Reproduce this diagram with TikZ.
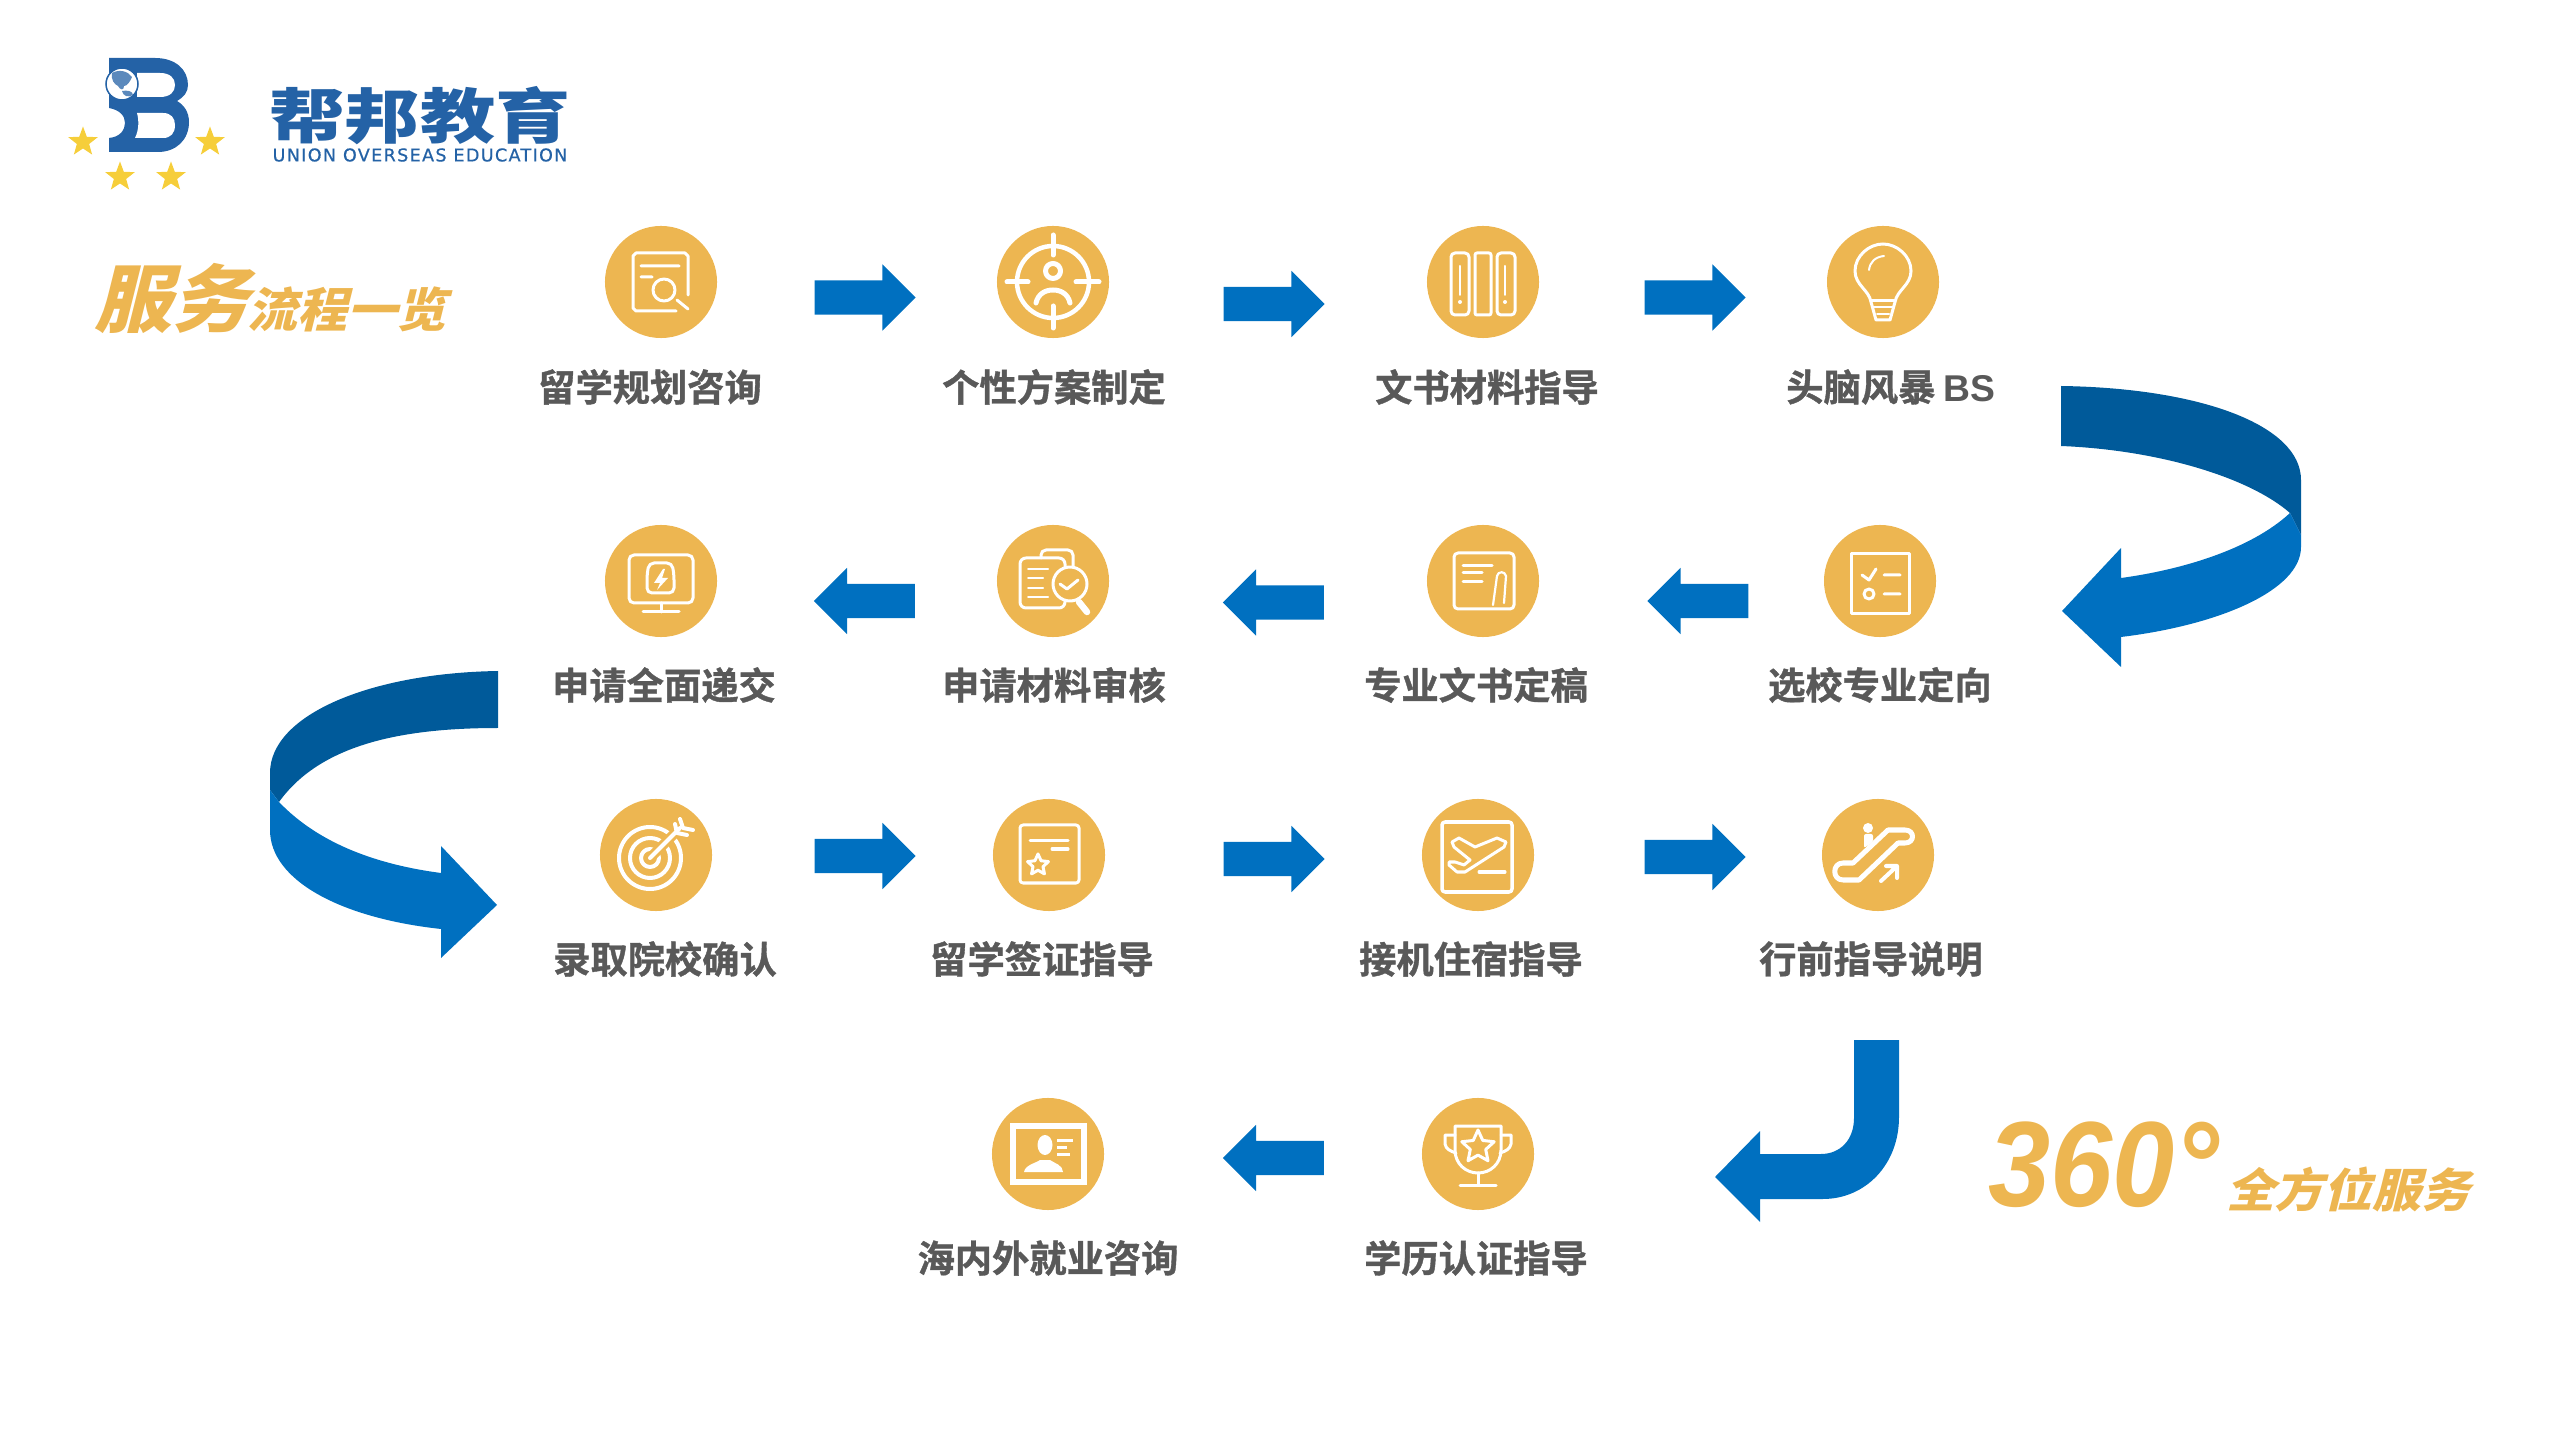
\documentclass[tikz,border=0pt]{standalone}
\usepackage{fontspec}
\setmainfont{Liberation Sans}
\newfontfamily\cjkbold[FakeBold=1]{Noto Sans CJK SC Bold}
\newfontfamily\cjkblack[FakeStretch=1.26]{Noto Sans CJK SC Black}
\newfontfamily\cjkslant[FakeSlant=0.25,FakeStretch=1.05]{Noto Sans CJK SC Black}
\newfontfamily\latinbold{Liberation Sans Bold}
\newfontfamily\latinslant[FakeStretch=0.92]{Liberation Sans Bold Italic}
\newfontfamily\logolatin[FakeBold=0.6,LetterSpace=7.5]{DejaVu Sans}
\usetikzlibrary{shapes.geometric,shapes.arrows}
\definecolor{logoBlue}{HTML}{2462A6}
\definecolor{logoStar}{HTML}{F6CE3A}
\definecolor{badgeGold}{HTML}{EDB651}
\definecolor{arrowBlue}{HTML}{0070C0}
\definecolor{arrowDark}{HTML}{005A9A}
\definecolor{labelGray}{HTML}{595959}
\tikzset{
  badge/.style={circle,fill=badgeGold,minimum size=1.12cm,inner sep=0pt},
  stepname/.style={font=\fontsize{10.6}{12}\selectfont\cjkbold\color{labelGray},inner sep=0pt},
  goarrow/.style={single arrow,fill=arrowBlue,minimum height=1.01cm,minimum width=0.65cm,
                  single arrow head extend=0.16cm,inner sep=0pt,text height=0.33cm,text depth=0pt},
  goright/.style={goarrow,xshift=-0.08cm},
  goleft/.style={goarrow,shape border rotate=180,xshift=0.08cm},
  icon/.style={draw=white,line width=0.03cm,line cap=round,line join=round},
  logostar/.style={star,star points=5,star point ratio=2.4,fill=logoStar,minimum size=0.31cm,inner sep=0pt},
  iconstar/.style={star,star points=5,star point ratio=2.1,draw=white,line width=0.03cm,line join=round,inner sep=0pt}
}
\begin{document}
\begin{tikzpicture}[x=0.01cm,y=-0.01cm]
  \useasboundingbox (0,0) rectangle (2560,1440);

  \fill[logoBlue] (109,58) -- (155,58) .. controls (176,58) and (188,70) .. (188,85)
    .. controls (188,92) and (184,97) .. (177,101) .. controls (184,105) and (189,112) .. (189,122)
    .. controls (189,140) and (176,152) .. (158,152) -- (109,152) -- (109,138)
    .. controls (120,137) and (125,130) .. (125,123) .. controls (125,116) and (120,110) .. (109,108) -- cycle;
  \fill[white] (137,73) -- (160,73) .. controls (170,73) and (175,78) .. (175,85)
    .. controls (175,92) and (170,97) .. (160,97) -- (137,97) -- cycle;
  \fill[white] (137,113) -- (163,113) .. controls (171,113) and (175,118) .. (175,125)
    .. controls (175,133) and (171,138) .. (163,138) -- (135,138) .. controls (139,130) and (139,120) .. (137,113) -- cycle;
  \draw[logoBlue,fill=white,line width=0.015cm] (122,84) circle[radius=16];
  \fill[logoBlue!75] (112,73) .. controls (119,69) and (128,71) .. (132,77) .. controls (130,82) and (127,86) .. (124,86)
    .. controls (124,91) and (120,90) .. (118,86) .. controls (114,84) and (111,80) .. (112,73) -- cycle;
  \fill[logoBlue!75] (122,91) .. controls (127,90) and (133,91) .. (133,95) .. controls (128,98) and (123,96) .. (122,91) -- cycle;
  \node[logostar] (star1) at (83,142) {};
  \node[logostar] (star2) at (210,142) {};
  \node[logostar] (star3) at (120,177) {};
  \node[logostar] (star4) at (171,177) {};
  \node[font=\fontsize{17}{20}\selectfont\cjkblack\color{logoBlue},inner sep=0pt] (brand) at (420,116) {帮邦教育};
  \node[font=\fontsize{5}{6}\selectfont\logolatin\color{logoBlue},inner sep=0pt] (brandlatin) at (420,155) {UNION OVERSEAS EDUCATION};

  \node[font=\fontsize{21}{24}\selectfont\cjkslant\color{badgeGold},inner sep=0pt] (titlea) at (172,298) {服务};
  \node[font=\fontsize{13.5}{16}\selectfont\cjkslant\color{badgeGold},inner sep=0pt] (titleb) at (347,309) {流程一览};
  \node[font=\fontsize{34.5}{40}\selectfont\latinslant\color{badgeGold},inner sep=0pt] (degree) at (2104,1165) {360°};
  \node[font=\fontsize{13.2}{16}\selectfont\cjkslant\color{badgeGold},inner sep=0pt] (service) at (2348,1190) {全方位服务};

  \node[badge] (plan) at (661,282) {};
  \node[badge] (scheme) at (1053,282) {};
  \node[badge] (essay) at (1483,282) {};
  \node[badge] (storm) at (1883,282) {};
  \node[badge] (submit) at (661,581) {};
  \node[badge] (review) at (1053,581) {};
  \node[badge] (final) at (1483,581) {};
  \node[badge] (choose) at (1880,581) {};
  \node[badge] (offer) at (656,855) {};
  \node[badge] (visa) at (1049,855) {};
  \node[badge] (pickup) at (1478,855) {};
  \node[badge] (depart) at (1878,855) {};
  \node[badge] (career) at (1048,1154) {};
  \node[badge] (degreeck) at (1478,1154) {};

  \node[stepname] (planname) at (650,387) {留学规划咨询};
  \node[stepname] (schemename) at (1054,387) {个性方案制定};
  \node[stepname] (essayname) at (1487,387) {文书材料指导};
  \node[stepname] (stormname) at (1891,387) {头脑风暴 {\latinbold BS}};
  \node[stepname] (submitname) at (664,685) {申请全面递交};
  \node[stepname] (reviewname) at (1054,685) {申请材料审核};
  \node[stepname] (finalname) at (1476,685) {专业文书定稿};
  \node[stepname] (choosename) at (1880,685) {选校专业定向};
  \node[stepname] (offername) at (665,959) {录取院校确认};
  \node[stepname] (visaname) at (1042,959) {留学签证指导};
  \node[stepname] (pickupname) at (1471,959) {接机住宿指导};
  \node[stepname] (departname) at (1871,959) {行前指导说明};
  \node[stepname] (careername) at (1048,1258) {海内外就业咨询};
  \node[stepname] (degreename) at (1476,1258) {学历认证指导};

  \node[goright] (ra) at (864.5,297.5) {};
  \node[goright] (rb) at (1273.5,304) {};
  \node[goright] (rc) at (1694.5,297.5) {};
  \node[goleft] (la) at (865,601) {};
  \node[goleft] (lb) at (1274,602.5) {};
  \node[goleft] (lc) at (1698.5,601) {};
  \node[goright] (rd) at (864.5,856) {};
  \node[goright] (re) at (1273.5,859) {};
  \node[goright] (rf) at (1694.5,857) {};
  \node[goleft] (ld) at (1274,1158) {};

  \fill[arrowDark] (2061,386) .. controls (2200,388) and (2301,425) .. (2301,480) -- (2301,535) -- (2290,513)
    .. controls (2250,478) and (2160,450) .. (2061,446) -- cycle;
  \fill[arrowBlue] (2290,513) .. controls (2250,550) and (2180,570) .. (2121,578) -- (2121,548) -- (2062,611)
    -- (2121,667) -- (2121,637) .. controls (2220,625) and (2301,590) .. (2301,547) -- (2301,535) -- cycle;
  \fill[arrowDark] (498,671) .. controls (370,673) and (270,715) .. (270,773) -- (270,790) -- (279,802)
    .. controls (320,745) and (400,728) .. (498,728) -- cycle;
  \fill[arrowBlue] (279,802) .. controls (320,845) and (380,865) .. (441,873) -- (441,846) -- (497,905)
    -- (441,958) -- (441,929) .. controls (340,918) and (270,880) .. (270,830) -- (270,790) -- cycle;
  \fill[arrowBlue] (1854,1040) -- (1899,1040) -- (1899,1117) .. controls (1899,1165) and (1865,1199) .. (1823,1199)
    -- (1760,1199) -- (1760,1222) -- (1715,1177) -- (1760,1131) -- (1760,1154) -- (1821,1154)
    .. controls (1840,1154) and (1854,1140) .. (1854,1118) -- cycle;

  \begin{scope}[shift={(plan.center)}]
    \draw[icon] (15,29) -- (-25,29) -- (-28,26) -- (-28,-26) -- (-25,-29) -- (24,-29) -- (27,-26) -- (27,13);
    \draw[icon] (-20,-16) -- (18,-16) (-20,-5) -- (-9,-5) (16,18) -- (27,27);
    \draw[icon] (3,8) circle[radius=11];
  \end{scope}
  \begin{scope}[shift={(scheme.center)}]
    \draw[icon,line width=0.045cm] (0,0) circle[radius=36];
    \draw[icon,line width=0.05cm] (0,-47) -- (0,-27) (0,24) -- (0,46) (-46,0) -- (-25,0) (23,0) -- (46,0);
    \draw[icon,line width=0.05cm] (0,-11) circle[radius=7.5];
    \draw[icon,line width=0.05cm] (-17,21) .. controls (-15,12) and (-8,8) .. (0,8) .. controls (8,8) and (15,12) .. (17,21);
  \end{scope}
  \begin{scope}[shift={(essay.center)}]
    \draw[icon,rounded corners=0.04cm] (-32,-29) rectangle (-14,33);
    \draw[icon,rounded corners=0.02cm] (-8,-29) rectangle (8,33);
    \draw[icon,rounded corners=0.04cm] (14,-29) rectangle (32,33);
    \draw[icon,line width=0.02cm] (-23,-16) -- (-23,13) (22,-16) -- (22,13);
    \fill[white] (-23,20) circle[radius=2] (22,20) circle[radius=2];
  \end{scope}
  \begin{scope}[shift={(storm.center)}]
    \draw[icon] (-12,20) .. controls (-14,8) and (-28,3) .. (-28,-11) .. controls (-28,-26) and (-14,-38) .. (0,-38)
      .. controls (14,-38) and (28,-26) .. (28,-11) .. controls (28,3) and (14,8) .. (12,20) -- (7,38) -- (-7,38) -- cycle;
    \draw[icon,line width=0.02cm] (-14,-12) .. controls (-13,-20) and (-8,-25) .. (1,-26);
    \draw[icon,line width=0.02cm] (-10,25) -- (10,25) (-6,32) -- (6,32);
    \draw[icon] (-12,19) -- (12,19);
  \end{scope}
  \begin{scope}[shift={(submit.center)}]
    \draw[icon,rounded corners=0.05cm] (-32,-26) rectangle (32,22);
    \draw[icon] (0,22) -- (0,31) (-18,31) -- (18,31);
    \draw[icon,rounded corners=0.05cm] (-14,12) -- (-14,-6) -- (-12,-18) -- (11,-18) -- (13,-6) -- (13,12) -- cycle;
    \fill[white] (2,-12) -- (-7,2) -- (-1,2) -- (-4,9) -- (7,-3) -- (1,-3) -- (4,-12) -- cycle;
  \end{scope}
  \begin{scope}[shift={(review.center)}]
    \draw[icon,rounded corners=0.05cm] (-12,-23) -- (-12,-31) -- (20,-31) -- (20,-15);
    \draw[icon,rounded corners=0.06cm] (-33,-23) rectangle (12,27);
    \draw[icon,line width=0.02cm] (-25,-12) -- (-5,-12) (-25,-3) -- (-10,-3) (-25,7) -- (-10,7) (-25,16) -- (-5,16);
    \draw[icon,fill=badgeGold] (17,3) circle[radius=17];
    \draw[icon] (7,3) -- (14,8) -- (25,-1);
    \draw[icon,line width=0.065cm] (26,21) -- (34,31);
  \end{scope}
  \begin{scope}[shift={(final.center)}]
    \draw[icon,rounded corners=0.04cm] (-29,-28) rectangle (31,28);
    \draw[icon] (-20,-15) -- (9,-15) (-20,-8) -- (-1,-8) (-20,1) -- (-1,1);
    \draw[icon,line width=0.022cm] (10,24) -- (14,-5) .. controls (15,-10) and (22,-10) .. (23,-5) -- (21,22);
  \end{scope}
  \begin{scope}[shift={(choose.center)}]
    \draw[icon] (-29,-27) rectangle (29,33);
    \draw[icon] (-18,-6) -- (-11,-1) -- (-4,-12) (4,-6) -- (20,-6) (4,13) -- (20,13);
    \draw[icon] (-11,13) circle[radius=5];
  \end{scope}
  \begin{scope}[shift={(offer.center)}]
    \draw[icon,line width=0.04cm] (-6,3) circle[radius=31] (-6,3) circle[radius=20] (-6,3) circle[radius=9];
    \draw[badgeGold,line width=0.1cm] (-6,3) -- (22,-25);
    \draw[icon,line width=0.04cm] (-6,3) -- (24,-27);
    \draw[icon,line width=0.04cm] (19,-31) -- (21,-22) -- (31,-20) (24,-36) -- (27,-27) -- (37,-25);
  \end{scope}
  \begin{scope}[shift={(visa.center)}]
    \draw[icon,rounded corners=0.03cm] (-29,-30) rectangle (30,28);
    \draw[icon] (-19,-14) -- (19,-14) (3,-6) -- (19,-6);
    \node[iconstar,minimum size=0.22cm] (visastar) at (-11,10) {};
  \end{scope}
  \begin{scope}[shift={(pickup.center)}]
    \draw[icon,rounded corners=0.03cm,line width=0.035cm] (-36,-33) rectangle (34,37);
    \draw[icon] (-26,-13) -- (-19,-17) -- (-3,-8) -- (19,-17) -- (28,-13) -- (26,-8) -- (-13,17) -- (-21,17)
      -- (-29,10) -- (-29,7) -- (-23,7) -- (-14,10) -- (-8,5) -- (-24,-8) -- cycle;
    \draw[icon] (1,17) -- (27,17);
  \end{scope}
  \begin{scope}[shift={(depart.center)}]
    \fill[white] (-10,-27) circle[radius=5];
    \fill[white,rounded corners=0.02cm] (-14,-21) -- (-5,-21) -- (-5,-13) -- (-14,-7) -- cycle;
    \draw[icon,line width=0.05cm] (10,-25) -- (27,-25) .. controls (37,-25) and (37,-12) .. (27,-12) -- (20,-12)
      -- (-19,25) -- (-35,25) .. controls (-46,25) and (-46,8) .. (-35,8) -- (-25,8) -- cycle;
    \draw[icon,line width=0.04cm] (3,26) -- (18,12) (8,11) -- (19,11) -- (19,23);
  \end{scope}
  \begin{scope}[shift={(career.center)}]
    \draw[white,line width=0.06cm] (-35,-28) rectangle (36,28);
    \fill[white] (-3,-9) ellipse[x radius=7.5,y radius=10];
    \fill[white] (-24,18) .. controls (-23,11) and (-12,9) .. (-8,6) -- (2,6) .. controls (6,9) and (15,11) .. (15,18) -- cycle;
    \draw[white,line width=0.03cm] (9,-14) -- (25,-14) (9,-7) -- (19,-7) (9,0) -- (22,0);
  \end{scope}
  \begin{scope}[shift={(degreeck.center)}]
    \draw[icon] (-23,-28) -- (23,-28) -- (23,-4) .. controls (23,10) and (12,19) .. (0,19) .. controls (-12,19) and (-23,10) .. (-23,-4) -- cycle;
    \draw[icon] (0,19) -- (0,31) (-18,31) -- (18,31);
    \draw[icon] (-23,-19) -- (-33,-19) -- (-33,-10) .. controls (-32,-5) and (-28,-3) .. (-22,-1);
    \draw[icon] (23,-19) -- (33,-19) -- (33,-10) .. controls (32,-5) and (28,-3) .. (22,-1);
    \node[iconstar,minimum size=0.34cm] (cupstar) at (0,-7) {};
  \end{scope}
\end{tikzpicture}
\end{document}
